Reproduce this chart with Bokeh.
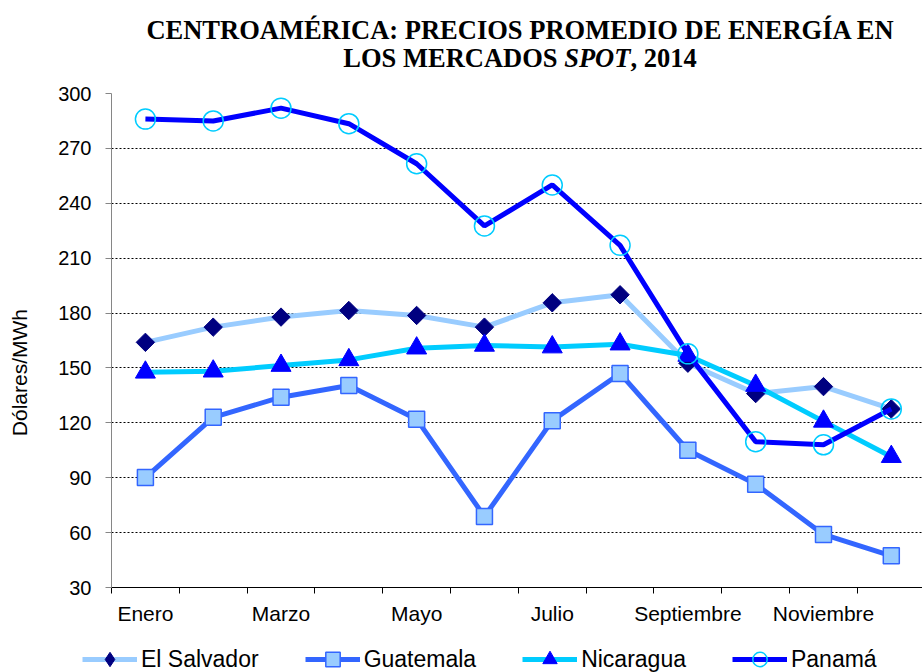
from bokeh.plotting import figure
from bokeh.models import FixedTicker, Legend, LegendItem, ColumnDataSource, Div
from bokeh.layouts import column
from bokeh.embed import file_html
from bokeh.resources import INLINE
import numpy as np

# ---------------- data ----------------
meses = ["Enero", "Febrero", "Marzo", "Abril", "Mayo", "Junio", "Julio",
         "Agosto", "Septiembre", "Octubre", "Noviembre", "Diciembre"]
el_salvador = [164.0, 172.3, 177.8, 181.4, 178.7, 172.3, 185.6, 190.0, 152.6, 136.0, 139.8, 127.6]
guatemala = [90.1, 123.0, 134.0, 140.4, 122.0, 68.8, 121.2, 147.0, 105.0, 86.5, 59.0, 47.3]
nicaragua = [147.6, 148.2, 151.3, 154.4, 160.8, 162.3, 161.4, 163.0, 156.8, 140.4, 120.8, 101.5]
panama = [286.0, 285.0, 292.0, 283.5, 261.6, 227.6, 250.0, 217.0, 157.7, 109.7, 108.0, 127.6]
y_ticks = [30, 60, 90, 120, 150, 180, 210, 240, 270, 300]
titulo_1 = "CENTROAMÉRICA: PRECIOS PROMEDIO DE ENERGÍA EN"
titulo_2a, titulo_2b, titulo_2c = "LOS MERCADOS ", "SPOT", ", 2014"
y_label = "Dólares/MWh"

x = list(range(1, len(meses) + 1))

FONT = "Liberation Sans"
SERIF = "Liberation Serif"
W = 922

title_div = Div(
    text=(f"{titulo_1}<br>{titulo_2a}<i>{titulo_2b}</i>{titulo_2c}"),
    width=W, height=84, margin=(0, 0, 0, 0),
    styles={"font-family": SERIF, "font-weight": "bold", "font-size": "26.5px",
            "line-height": "28px", "text-align": "center", "color": "black",
            "padding-left": "118px", "padding-top": "16px", "box-sizing": "border-box",
            "white-space": "nowrap"},
)

p = figure(width=W, height=552, x_range=(0.5, 12.46), y_range=(30, 300),
           output_backend="svg", toolbar_location=None,
           min_border_left=111, min_border_right=0,
           min_border_top=9, min_border_bottom=49, margin=(0, 0, 0, 0))
p.outline_line_color = None
p.background_fill_color = "white"
p.border_fill_color = "white"

# ---- axes ----
p.yaxis.ticker = FixedTicker(ticks=y_ticks)
p.yaxis.axis_line_color = "#868686"
p.yaxis.major_tick_line_color = "#868686"
p.yaxis.major_tick_out = 6
p.yaxis.major_tick_in = 0
p.yaxis.minor_tick_line_color = None
p.yaxis.major_label_standoff = 14
p.yaxis.major_label_text_font = FONT
p.yaxis.major_label_text_font_size = "20px"
p.yaxis.major_label_text_color = "black"
p.yaxis.axis_label = y_label + "\u00a0" * 11
p.yaxis.axis_label_text_font = FONT
p.yaxis.axis_label_text_font_size = "21px"
p.yaxis.axis_label_text_font_style = "normal"
p.yaxis.axis_label_text_color = "black"
p.yaxis.axis_label_standoff = 24

label_pos = [x[i] for i in range(0, 12, 2)]
boundaries = [v - 0.5 for v in x]
p.xaxis.ticker = FixedTicker(ticks=label_pos, minor_ticks=boundaries)
p.xaxis.major_label_overrides = {x[i]: meses[i] for i in range(0, 12, 2)}
p.xaxis.axis_line_color = "black"
p.xaxis.major_tick_out = 0
p.xaxis.major_tick_in = 0
p.xaxis.minor_tick_out = 6
p.xaxis.minor_tick_in = 0
p.xaxis.minor_tick_line_color = "black"
p.xaxis.major_label_standoff = 8
p.xaxis.major_label_text_font = FONT
p.xaxis.major_label_text_font_size = "21px"
p.xaxis.major_label_text_color = "black"

p.xgrid.grid_line_color = None
p.ygrid.ticker = FixedTicker(ticks=y_ticks)
p.ygrid.grid_line_color = "black"
p.ygrid.grid_line_dash = "2 2"
p.ygrid.grid_line_width = 1

# ---- series ----
series = [
    ("El Salvador", el_salvador, "#99CCFF",
     dict(marker="square", angle=np.pi / 4, size=13, fill_color="#000080", line_color="#000080"),
     dict(marker="diamond", size=17, fill_color="#000080", line_color="#000080")),
    ("Guatemala", guatemala, "#3366FF",
     dict(marker="square", size=16, fill_color="#99CCFF", line_color="#3366FF", line_width=1.5),
     dict(marker="square", size=14, fill_color="#99CCFF", line_color="#3366FF", line_width=1.5)),
    ("Nicaragua", nicaragua, "#00CCFF",
     dict(marker="triangle", size=20, fill_color="#0000FF", line_color="#0000FF"),
     dict(marker="triangle", size=16, fill_color="#0000FF", line_color="#0000FF")),
    ("Panamá", panama, "#0000FF",
     dict(marker="circle", size=20, fill_color=None, line_color="#00CCFF", line_width=1.5),
     dict(marker="circle", size=14, fill_color=None, line_color="#00CCFF", line_width=1.5)),
]

# legend strip (separate small figure, frame not aligned with the chart)
pl = figure(width=W, height=36, x_range=(0, 1), y_range=(0, 1),
            output_backend="svg", toolbar_location=None,
            x_axis_location=None, y_axis_location=None,
            min_border_left=0, min_border_right=0, min_border_top=0,
            min_border_bottom=0, margin=(0, 0, 0, 0), frame_align=False)
pl.outline_line_color = None
pl.xgrid.visible = False
pl.ygrid.visible = False

items = []
for name, vals, lcolor, mk, leg_mk in series:
    src = ColumnDataSource(dict(x=x, y=vals))
    p.line("x", "y", source=src, line_color=lcolor, line_width=5)
    p.scatter("x", "y", source=src, **mk)
    proxy = ColumnDataSource(dict(x=[np.nan], y=[np.nan]))
    rl = pl.line("x", "y", source=proxy, line_color=lcolor, line_width=5)
    rm = pl.scatter("x", "y", source=proxy, **leg_mk)
    items.append(LegendItem(label=name, renderers=[rl, rm]))

legend = Legend(items=items, orientation="horizontal", location=(82, -5),
                glyph_width=55, glyph_height=36, label_standoff=4, spacing=46,
                padding=0, margin=0, border_line_color=None,
                background_fill_alpha=0, label_text_font=FONT,
                label_text_font_size="23px", label_text_color="black")
pl.add_layout(legend, "center")

layout = column(title_div, p, pl, spacing=0, margin=(0, 0, 0, 0))

open("out.html", "w").write(file_html(layout, INLINE))
